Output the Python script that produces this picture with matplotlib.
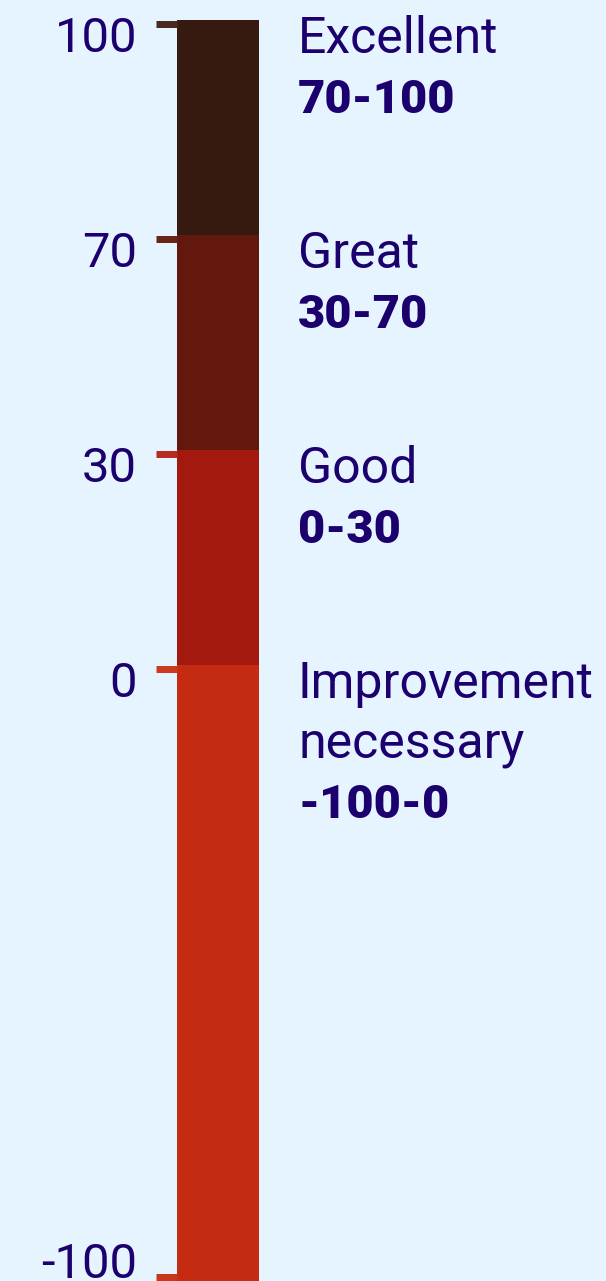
import numpy as np
import matplotlib
matplotlib.use('Agg')
from matplotlib import pyplot as plt
from matplotlib.scale import FuncScale
from matplotlib.transforms import ScaledTranslation

# score bands, bottom to top
band_low = [-100, 0, 30, 70]
band_high = [0, 30, 70, 100]
band_colors = ['#c42b10', '#a3190d', '#62180d', '#361a0f']
band_names = [['Improvement', 'necessary'], ['Good'], ['Great'], ['Excellent']]
band_ranges = ['-100-0', '0-30', '30-70', '70-100']

tick_values = [-100, 0, 30, 70, 100]
tick_colors = ['#c8381c', '#cc3a1e', '#b52e1f', '#6a2416', '#4a2a20']

bg = '#e6f4ff'
ink = '#1b006e'

# the scale is not linear: each upper band gets the same height,
# the negative band is stretched
breaks = np.array([-100, 0, 30, 70, 100], float)
px = np.array([0, 608, 823, 1038, 1253], float)
slope = (px[1] - px[0]) / (breaks[1] - breaks[0])


def fwd(v):
    v = np.asarray(v, float)
    return np.where(v < breaks[0], px[0] + (v - breaks[0]) * slope, np.interp(v, breaks, px))


def inv(p):
    p = np.asarray(p, float)
    return np.where(p < px[0], breaks[0] + (p - px[0]) / slope, np.interp(p, px, breaks))


plt.rcParams['font.family'] = ['Roboto', 'DejaVu Sans']
plt.rcParams['axes.unicode_minus'] = False
fig = plt.figure(figsize=(606 / 72, 1281 / 72), dpi=72, facecolor=bg)
ax = fig.add_axes([177 / 606, 0, 82 / 606, 1261 / 1281])
ax.set_facecolor(bg)
ax.set_yscale(FuncScale(ax.yaxis, (fwd, inv)))

ymin = float(inv(-8))
bottoms = list(band_low)
bottoms[0] = ymin
for lo, hi, c in zip(bottoms, band_high, band_colors):
    ax.bar(0, hi - lo, bottom=lo, width=1, color=c, linewidth=0)

ax.set_xlim(-0.5, 0.5)
ax.set_ylim(ymin, 100)
for s in ax.spines.values():
    s.set_visible(False)
ax.set_xticks([])
ax.set_yticks(tick_values)
ax.tick_params(axis='y', length=21, width=7, pad=19, labelsize=49, labelcolor=ink)


def shift(dy):
    return ScaledTranslation(0, -dy / 72, fig.dpi_scale_trans)


for i, (tick, c) in enumerate(zip(ax.yaxis.get_major_ticks(), tick_colors)):
    tick.tick1line.set_color(c)
    tick.tick1line.set_markeredgecolor(c)
    tick.tick1line.set_transform(tick.tick1line.get_transform() + shift(3.5))
    tick.label1.set_va('baseline')
    lab_dy = 5 if i == 0 else 32
    tick.label1.set_transform(tick.label1.get_transform() + shift(lab_dy))

# band names and ranges to the right of the bar
for hi, names, rng in zip(band_high, band_names, band_ranges):
    lines = [(n, 'normal') for n in names] + [(rng, 900)]
    for i, (txt, w) in enumerate(lines):
        ax.annotate(txt, xy=(1, hi), xycoords=ax.get_yaxis_transform(),
                    xytext=(39, -33 - 60 * i), textcoords='offset pixels',
                    ha='left', va='baseline', fontsize=50 if w == 'normal' else 47,
                    fontweight=w, color=ink, annotation_clip=False)

fig.savefig('out.png', dpi=72, facecolor=bg)
